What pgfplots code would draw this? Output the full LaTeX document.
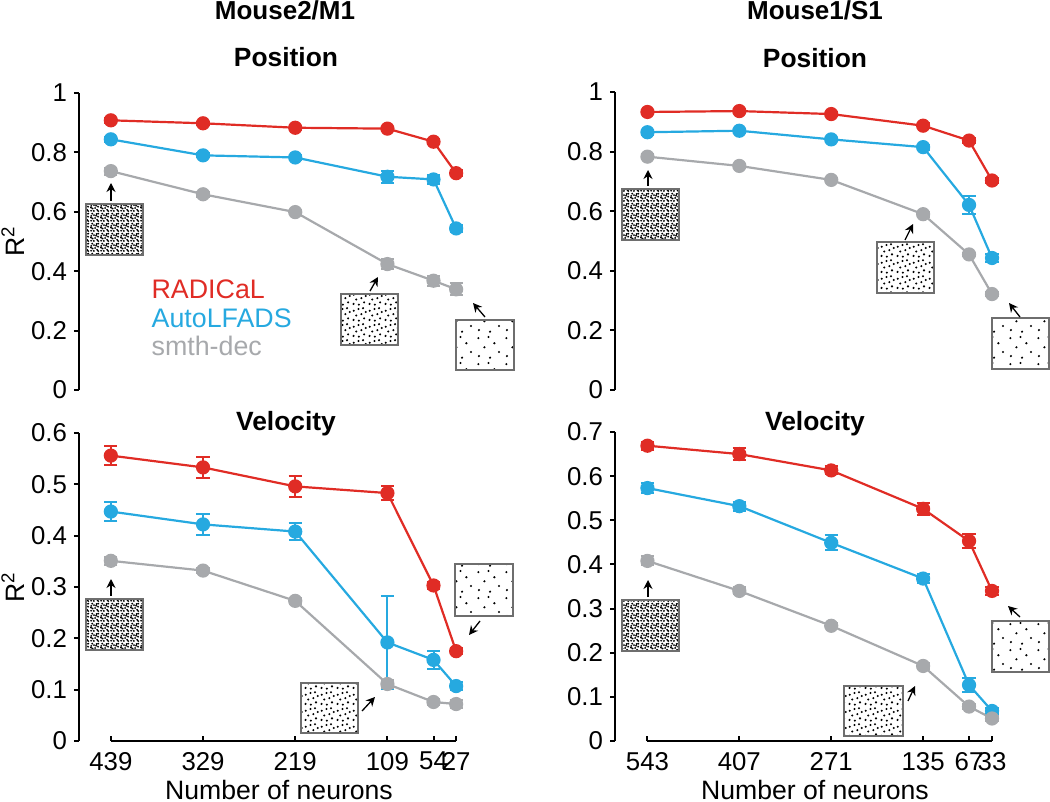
\documentclass[border=0pt]{standalone}
\usepackage{pgfplots}
\pgfplotsset{compat=1.18}
\usepackage{pgfplotstable}
\usepackage{fontspec}
\setmainfont{Liberation Sans}
\usetikzlibrary{arrows.meta,patterns.meta}

\definecolor{radred}{RGB}{224,44,37}
\definecolor{autblue}{RGB}{38,169,224}
\definecolor{smtgray}{RGB}{167,169,172}
\definecolor{boxgray}{RGB}{110,110,110}

\pgfdeclarepattern{
  name=dotsdense, type=uncolored,
  bottom left={\pgfpoint{0pt}{0pt}}, top right={\pgfpoint{5pt}{5pt}},
  tile size={\pgfpoint{5pt}{5pt}},
  code={
    \pgfpathcircle{\pgfpoint{0.6pt}{0.7pt}}{0.55pt}
    \pgfpathcircle{\pgfpoint{2.1pt}{0.6pt}}{0.55pt}
    \pgfpathcircle{\pgfpoint{3.9pt}{1.2pt}}{0.55pt}
    \pgfpathcircle{\pgfpoint{1.4pt}{1.9pt}}{0.55pt}
    \pgfpathcircle{\pgfpoint{2.8pt}{2.2pt}}{0.55pt}
    \pgfpathcircle{\pgfpoint{4.4pt}{2.9pt}}{0.55pt}
    \pgfpathcircle{\pgfpoint{0.7pt}{3.3pt}}{0.55pt}
    \pgfpathcircle{\pgfpoint{2.2pt}{3.7pt}}{0.55pt}
    \pgfpathcircle{\pgfpoint{3.6pt}{4.3pt}}{0.55pt}
    \pgfpathcircle{\pgfpoint{1.2pt}{4.5pt}}{0.55pt}
    \pgfpathcircle{\pgfpoint{4.5pt}{0.5pt}}{0.55pt}
    \pgfpathcircle{\pgfpoint{3.3pt}{3.4pt}}{0.55pt}
    \pgfpathcircle{\pgfpoint{0.5pt}{2.4pt}}{0.55pt}
    \pgfpathcircle{\pgfpoint{4.5pt}{4.5pt}}{0.55pt}
    \pgfusepath{fill}
  }
}
\pgfdeclarepattern{
  name=dotsmid, type=uncolored,
  bottom left={\pgfpoint{0pt}{0pt}}, top right={\pgfpoint{8pt}{8pt}},
  tile size={\pgfpoint{8pt}{8pt}},
  code={
    \pgfpathcircle{\pgfpoint{0.8pt}{1.1pt}}{0.6pt}
    \pgfpathcircle{\pgfpoint{3.6pt}{0.7pt}}{0.6pt}
    \pgfpathcircle{\pgfpoint{6.3pt}{1.9pt}}{0.6pt}
    \pgfpathcircle{\pgfpoint{2.2pt}{3.4pt}}{0.6pt}
    \pgfpathcircle{\pgfpoint{4.9pt}{4.1pt}}{0.6pt}
    \pgfpathcircle{\pgfpoint{7.2pt}{5.2pt}}{0.6pt}
    \pgfpathcircle{\pgfpoint{0.9pt}{5.9pt}}{0.6pt}
    \pgfpathcircle{\pgfpoint{3.4pt}{6.8pt}}{0.6pt}
    \pgfpathcircle{\pgfpoint{5.8pt}{7.2pt}}{0.6pt}
    \pgfusepath{fill}
  }
}
\pgfdeclarepattern{
  name=dotssparse, type=uncolored,
  bottom left={\pgfpoint{0pt}{0pt}}, top right={\pgfpoint{14pt}{13pt}},
  tile size={\pgfpoint{14pt}{13pt}},
  code={
    \pgfpathcircle{\pgfpoint{1.5pt}{2.0pt}}{0.6pt}
    \pgfpathcircle{\pgfpoint{7.2pt}{1.2pt}}{0.6pt}
    \pgfpathcircle{\pgfpoint{11.8pt}{4.1pt}}{0.6pt}
    \pgfpathcircle{\pgfpoint{4.3pt}{6.5pt}}{0.6pt}
    \pgfpathcircle{\pgfpoint{9.4pt}{8.6pt}}{0.6pt}
    \pgfpathcircle{\pgfpoint{1.2pt}{11.2pt}}{0.6pt}
    \pgfpathcircle{\pgfpoint{6.4pt}{11.8pt}}{0.6pt}
    \pgfusepath{fill}
  }
}

\pgfplotstableread{
n   rad   rade  aut   aute  smt   smte
439 0.908 0.008 0.844 0.008 0.737 0.012
329 0.898 0.006 0.790 0.007 0.659 0.009
219 0.883 0.006 0.783 0.007 0.599 0.007
109 0.880 0.006 0.718 0.020 0.424 0.018
54  0.836 0.008 0.709 0.016 0.368 0.017
27  0.730 0.010 0.544 0.013 0.339 0.020
}\posMone
\pgfplotstableread{
n   rad   rade  aut   aute  smt   smte
543 0.933 0.007 0.865 0.008 0.783 0.008
407 0.936 0.006 0.870 0.007 0.752 0.006
271 0.926 0.007 0.841 0.006 0.705 0.007
135 0.887 0.008 0.815 0.008 0.590 0.008
67  0.837 0.009 0.621 0.030 0.455 0.006
33  0.703 0.009 0.443 0.012 0.322 0.008
}\posSone
\pgfplotstableread{
n   rad   rade  aut   aute  smt   smte
439 0.556 0.019 0.447 0.018 0.351 0.008
329 0.533 0.020 0.422 0.020 0.332 0.005
219 0.496 0.020 0.408 0.016 0.273 0.006
109 0.483 0.014 0.192 0.091 0.111 0.008
54  0.303 0.006 0.158 0.018 0.076 0.006
27  0.175 0.006 0.107 0.008 0.072 0.008
}\velMone
\pgfplotstableread{
n   rad   rade  aut   aute  smt   smte
543 0.669 0.009 0.573 0.011 0.408 0.010
407 0.650 0.013 0.532 0.010 0.340 0.008
271 0.613 0.009 0.449 0.017 0.261 0.006
135 0.526 0.014 0.368 0.010 0.170 0.006
67  0.453 0.016 0.127 0.016 0.078 0.005
33  0.340 0.010 0.068 0.007 0.051 0.005
}\velSone

\pgfplotsset{
  panel/.style={
    scale only axis, clip=false,
    axis y line*=left, axis x line*=bottom,
    x axis line style={draw=none},
    axis line style={line width=1pt},
    ytick align=outside, xtick align=inside,
    major tick length=2.5pt,
    tick style={line width=1pt, black},
    ymin=0,
    /pgf/number format/assume math mode=true,
    tick label style={font=\fontsize{12.9}{14}\selectfont},
    xticklabel style={yshift=-2pt},
    title style={font=\bfseries\fontsize{13.2}{15}\selectfont, at={(0.5,1)}, anchor=base},
  },
  series/.style={line width=1.1pt, mark=*, mark size=3pt, mark options={solid},
    error bars/y dir=both, error bars/y explicit,
    error bars/error bar style={line width=1pt},
    error bars/error mark options={rotate=90, mark size=3.3pt, line width=1pt}},
  ylab/.style={ylabel={R\textsuperscript{2}},
    every axis y label/.style={at={(rel axis cs:0,0.5)}, xshift=-33pt, rotate=90, anchor=center, font=\fontsize{13.3}{15}\selectfont}},
  xlab/.style={xlabel={Number of neurons},
    every axis x label/.style={at={(rel axis cs:0.5,0)}, anchor=base, yshift=-29pt, xshift=#1, font=\fontsize{13.3}{15}\selectfont}},
}

\newcommand{\inset}[6]{%
  \draw[boxgray, line width=0.75pt, fill=white] (#1,#2) rectangle (#3,#4);
  \fill[pattern=#5, pattern color=black] (#1,#2) rectangle (#3,#4);
  \draw[boxgray, line width=0.75pt] (#1,#2) rectangle (#3,#4);
  #6}
\newcommand{\arr}[4]{\draw[line width=0.65pt, -{Stealth[length=4.5pt,width=4.5pt]}] (#1,#2) -- (#3,#4);}

\begin{document}
\begin{tikzpicture}
\useasboundingbox (0,0) rectangle (525pt,-401pt);

% ---------- top left ----------
\begin{axis}[panel, ylab, at={(39.5pt,-195pt)}, anchor=south west,
  width=207pt, height=148.5pt,
  xmin=-477, xmax=17, ymax=1, ytick={0,0.2,0.4,0.6,0.8,1}, xtick=\empty,
  title={Position}, title style={yshift=7pt},
  legend image code/.code={},
  legend style={draw=none, fill=none, at={(0.16,0.39)}, anchor=north west,
    font=\fontsize{13.4}{15}\selectfont, row sep=1.5pt,
    nodes={inner sep=0pt, text height=10pt, text depth=2.8pt}},
  legend cell align=left]
\addplot[series, radred] table[x expr=-\thisrow{n}, y=rad, y error=rade] {\posMone};
\addlegendentry{\textcolor{radred}{RADICaL}}
\addplot[series, autblue] table[x expr=-\thisrow{n}, y=aut, y error=aute] {\posMone};
\addlegendentry{\textcolor{autblue}{AutoLFADS}}
\addplot[series, smtgray] table[x expr=-\thisrow{n}, y=smt, y error=smte] {\posMone};
\addlegendentry{\textcolor{smtgray}{smth-dec}}
\end{axis}

% ---------- bottom left ----------
\begin{axis}[panel, ylab, xlab=-3.5pt, at={(39.5pt,-370.5pt)}, anchor=south west,
  width=207pt, height=154pt,
  xmin=-477, xmax=17, ymax=0.6, ytick={0,0.1,0.2,0.3,0.4,0.5,0.6},
  xtick={-439,-329,-219,-109,-54,-27}, xticklabels={439,329,219,109,54,27},
  title={Velocity}, title style={yshift=-4.5pt}]
\draw[line width=1pt] (axis cs:-439,0) -- (axis cs:-27,0);
\addplot[series, radred] table[x expr=-\thisrow{n}, y=rad, y error=rade] {\velMone};
\addplot[series, autblue] table[x expr=-\thisrow{n}, y=aut, y error=aute] {\velMone};
\addplot[series, smtgray] table[x expr=-\thisrow{n}, y=smt, y error=smte] {\velMone};
\end{axis}

% ---------- top right ----------
\begin{axis}[panel, at={(307.5pt,-195pt)}, anchor=south west,
  width=200pt, height=149pt,
  xmin=-591, xmax=1, ymax=1, ytick={0,0.2,0.4,0.6,0.8,1}, xtick=\empty,
  title={Position}, title style={yshift=6pt}]
\addplot[series, radred] table[x expr=-\thisrow{n}, y=rad, y error=rade] {\posSone};
\addplot[series, autblue] table[x expr=-\thisrow{n}, y=aut, y error=aute] {\posSone};
\addplot[series, smtgray] table[x expr=-\thisrow{n}, y=smt, y error=smte] {\posSone};
\end{axis}

% ---------- bottom right ----------
\begin{axis}[panel, xlab=0pt, at={(307.5pt,-370.5pt)}, anchor=south west,
  width=200pt, height=154.5pt,
  xmin=-591, xmax=1, ymax=0.7, ytick={0,0.1,0.2,0.3,0.4,0.5,0.6,0.7},
  xtick={-543,-407,-271,-135,-67,-33}, xticklabels={543,407,271,135,67,33},
  title={Velocity}, title style={yshift=-5pt}]
\draw[line width=1pt] (axis cs:-543,0) -- (axis cs:-33,0);
\addplot[series, radred] table[x expr=-\thisrow{n}, y=rad, y error=rade] {\velSone};
\addplot[series, autblue] table[x expr=-\thisrow{n}, y=aut, y error=aute] {\velSone};
\addplot[series, smtgray] table[x expr=-\thisrow{n}, y=smt, y error=smte] {\velSone};
\end{axis}

% ---------- column titles, insets (pixel coordinates) ----------
\begin{scope}[x=0.5pt, y=-0.5pt]
\node[anchor=base, font=\bfseries\fontsize{13}{15}\selectfont] at (285,19.5) {Mouse2/M1};
\node[anchor=base, font=\bfseries\fontsize{13}{15}\selectfont] at (815,19.5) {Mouse1/S1};

\inset{86}{204}{143}{255}{dotsdense}{\arr{111}{201}{111}{183}}
\inset{341}{294}{398}{345}{dotsmid}{\arr{370}{291}{378}{277}}
\inset{456}{320}{514}{370}{dotssparse}{\arr{485}{317}{473}{303}}

\inset{622}{189}{679}{240}{dotsdense}{\arr{648}{186}{648}{170}}
\inset{877}{242}{934}{293}{dotsmid}{\arr{905}{240}{913}{224}}
\inset{992}{318}{1049}{369}{dotssparse}{\arr{1020}{317}{1009}{303}}

\inset{86}{599}{143}{650}{dotsdense}{\arr{111}{596}{111}{579}}
\inset{301}{683}{358}{733}{dotsmid}{\arr{362}{711}{375}{697}}
\inset{455}{564}{513}{616}{dotssparse}{\arr{480}{621}{469}{635}}

\inset{622}{600}{679}{651}{dotsdense}{\arr{648}{597}{648}{580}}
\inset{844}{686}{903}{736}{dotsmid}{\arr{908}{701}{915}{686}}
\inset{992}{621}{1049}{672}{dotssparse}{\arr{1020}{617}{1008}{606}}
\end{scope}
\end{tikzpicture}
\end{document}
